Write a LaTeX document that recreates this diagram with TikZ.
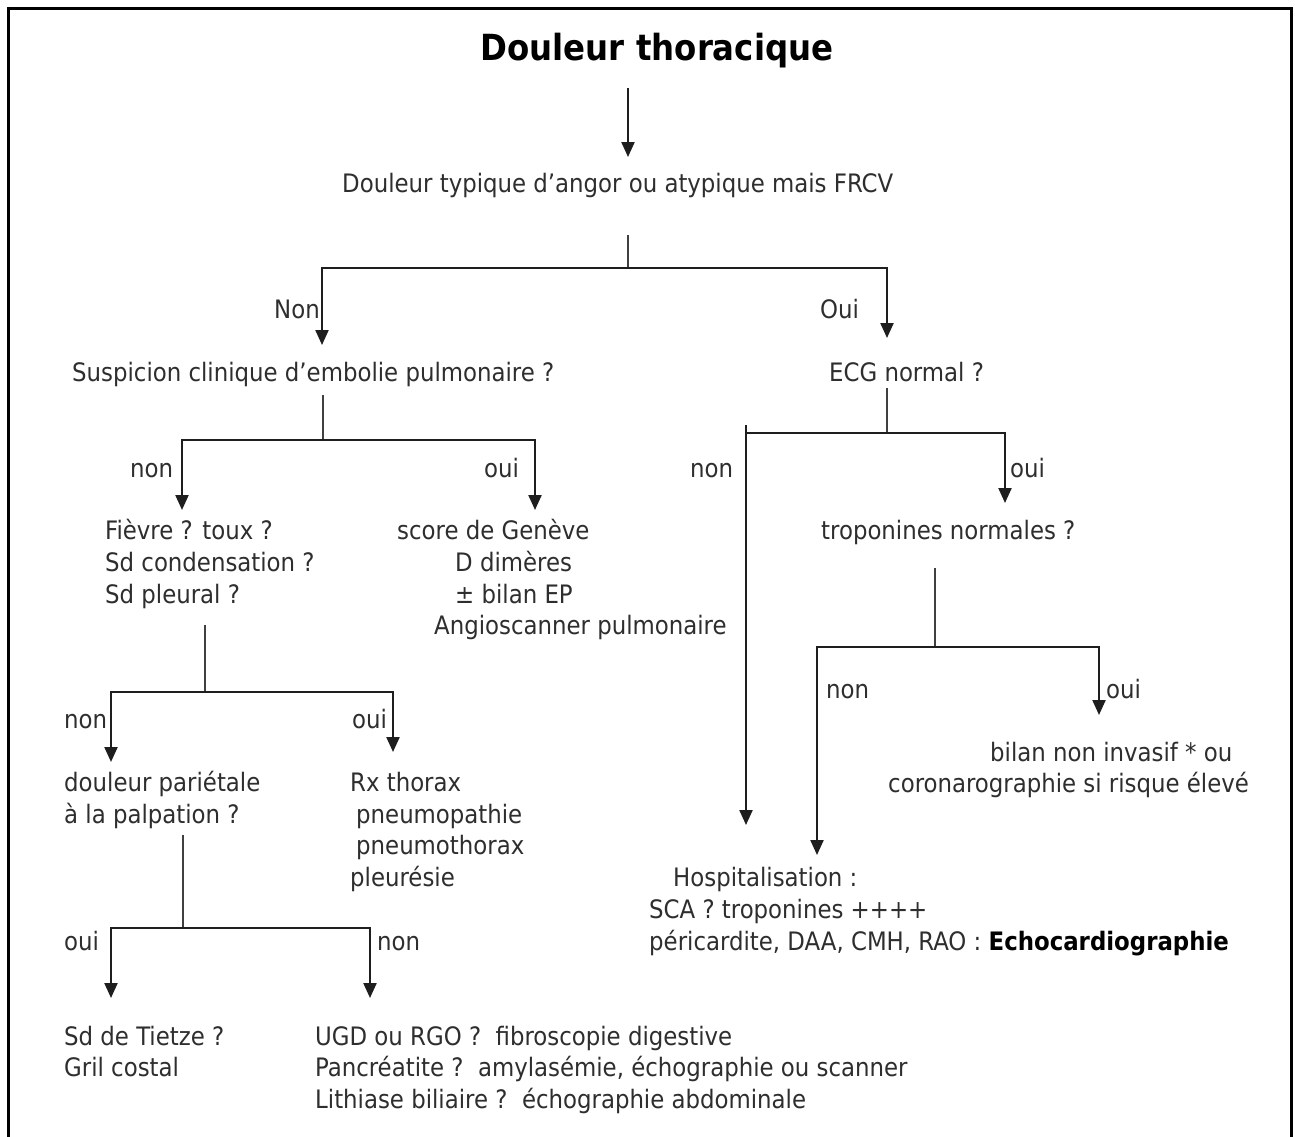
\documentclass[tikz,border=0pt]{standalone}
\usepackage{fontspec}
\setmainfont{DejaVu Sans Condensed}
\usetikzlibrary{arrows.meta,calc}
\definecolor{txtc}{HTML}{2E2E2E}
\definecolor{linec}{HTML}{1E1E1E}
\begin{document}
\begin{tikzpicture}[x=1pt,y=-1pt,
  txt/.style={anchor=base west, inner sep=0pt, text=txtc, font=\fontsize{25.4}{30}\selectfont},
  txte/.style={txt, anchor=base east},
  ln/.style={draw=linec, line width=2.2pt},
  stem/.style={draw=linec!85, line width=1.4pt},
  arr/.style={ln, -{Triangle[length=15pt,width=13pt]}}]
\useasboundingbox (0,0) rectangle (1295,1137);
\fill[white] (0,0) rectangle (1295,1137);
% frame
\draw[line width=3pt, black] (8,1160) -- (8,9) -- (1291,9) -- (1291,1160);

% title
\node[anchor=base, inner sep=0pt, text=black, font=\bfseries\fontsize{36}{40}\selectfont] (title) at (657,61) {Douleur thoracique};
\coordinate (t1) at (628,88);
\coordinate (t2) at (628,157);
\draw[arr] (t1) -- (t2);

\node[txt] (q1) at (342,192) {Douleur typique d’angor ou atypique mais FRCV};

% split 1
\coordinate (s1) at (628,235);
\coordinate (j1) at (628,268);
\coordinate (e1l) at (322,345);
\coordinate (e1r) at (887,338);
\draw[stem] (s1) -- (j1);
\draw[arr] (j1) -| (e1l);
\draw[arr] (j1) -| (e1r);
\node[txte] (l1n) at (320,318) {Non};
\node[txt] (l1o) at (820,318) {Oui};

\node[txt] (q2) at (72,381) {Suspicion clinique d’embolie pulmonaire ?};
\node[txt] (q3) at (829,381) {ECG normal ?};

% split 2 (left)
\coordinate (s2) at (323,395);
\coordinate (j2) at (323,440);
\coordinate (e2l) at (182,510);
\coordinate (e2r) at (535,510);
\draw[stem] (s2) -- (j2);
\draw[arr] (j2) -| (e2l);
\draw[arr] (j2) -| (e2r);
\node[txt] (l2n) at (130,477) {non};
\node[txt] (l2o) at (484,477) {oui};

% split 3 (right)
\coordinate (s3) at (887,388);
\coordinate (j3) at (887,433);
\coordinate (e3l) at (746,825);
\coordinate (e3r) at (1005,503);
\coordinate (e3t) at (746,425);
\draw[stem] (s3) -- (j3);
\draw[arr] (j3) -| (e3l);
\draw[ln] (e3t) -- ($(e3t)+(0,10)$);
\draw[arr] (j3) -| (e3r);
\node[txt] (l3n) at (690,477) {non};
\node[txt] (l3o) at (1010,477) {oui};

% Fievre block
\node[txt] (f1) at (105,539) {Fièvre ? toux ?};
\node[txt] (f2) at (105,571) {Sd condensation ?};
\node[txt] (f3) at (105,603) {Sd pleural ?};

% Geneve block
\node[txt] (g1) at (397,539) {score de Genève};
\node[txt] (g2) at (455,571) {D dimères};
\node[txt] (g3) at (455,603) {± bilan EP};
\node[txt] (g4) at (434,634) {Angioscanner pulmonaire};

% troponines
\node[txt] (tr) at (821,539) {troponines normales ?};

% split 4 (troponines)
\coordinate (s4) at (935,568);
\coordinate (j4) at (935,647);
\coordinate (e4l) at (817,855);
\coordinate (e4r) at (1099,715);
\draw[stem] (s4) -- (j4);
\draw[arr] (j4) -| (e4l);
\draw[arr] (j4) -| (e4r);
\node[txt] (l4n) at (826,698) {non};
\node[txt] (l4o) at (1106,698) {oui};

\node[txt] (b1) at (990,761) {bilan non invasif * ou};
\node[txt] (b2) at (888,792) {coronarographie si risque élevé};

\node[txt] (h1) at (673,886) {Hospitalisation :};
\node[txt] (h2) at (649,918) {SCA ? troponines ++++};
\node[txt] (h3) at (649,950) {péricardite, DAA, CMH, RAO : \textbf{\textcolor{black}{Echocardiographie}}};

% split 5 (fievre)
\coordinate (s5) at (205,625);
\coordinate (j5) at (205,692);
\coordinate (e5l) at (111,762);
\coordinate (e5r) at (393,752);
\draw[stem] (s5) -- (j5);
\draw[arr] (j5) -| (e5l);
\draw[arr] (j5) -| (e5r);
\node[txt] (l5n) at (64,728) {non};
\node[txt] (l5o) at (352,728) {oui};

\node[txt] (d1) at (64,791) {douleur pariétale};
\node[txt] (d2) at (64,823) {à la palpation ?};

\node[txt] (r1) at (350,791) {Rx thorax};
\node[txt] (r2) at (356,823) {pneumopathie};
\node[txt] (r3) at (356,854) {pneumothorax};
\node[txt] (r4) at (350,886) {pleurésie};

% split 6 (douleur parietale)
\coordinate (s6) at (183,835);
\coordinate (j6) at (183,928);
\coordinate (e6l) at (111,998);
\coordinate (e6r) at (370,998);
\draw[stem] (s6) -- (j6);
\draw[arr] (j6) -| (e6l);
\draw[arr] (j6) -| (e6r);
\node[txt] (l6o) at (64,950) {oui};
\node[txt] (l6n) at (377,950) {non};

\node[txt] (z1) at (64,1045) {Sd de Tietze ?};
\node[txt] (z2) at (64,1076) {Gril costal};

\node[txt] (u1) at (315,1045) {UGD ou RGO ?\ \ fibroscopie digestive};
\node[txt] (u2) at (315,1076) {Pancréatite ?\ \ amylasémie, échographie ou scanner};
\node[txt] (u3) at (315,1108) {Lithiase biliaire ?\ \ échographie abdominale};
\end{tikzpicture}
\end{document}
